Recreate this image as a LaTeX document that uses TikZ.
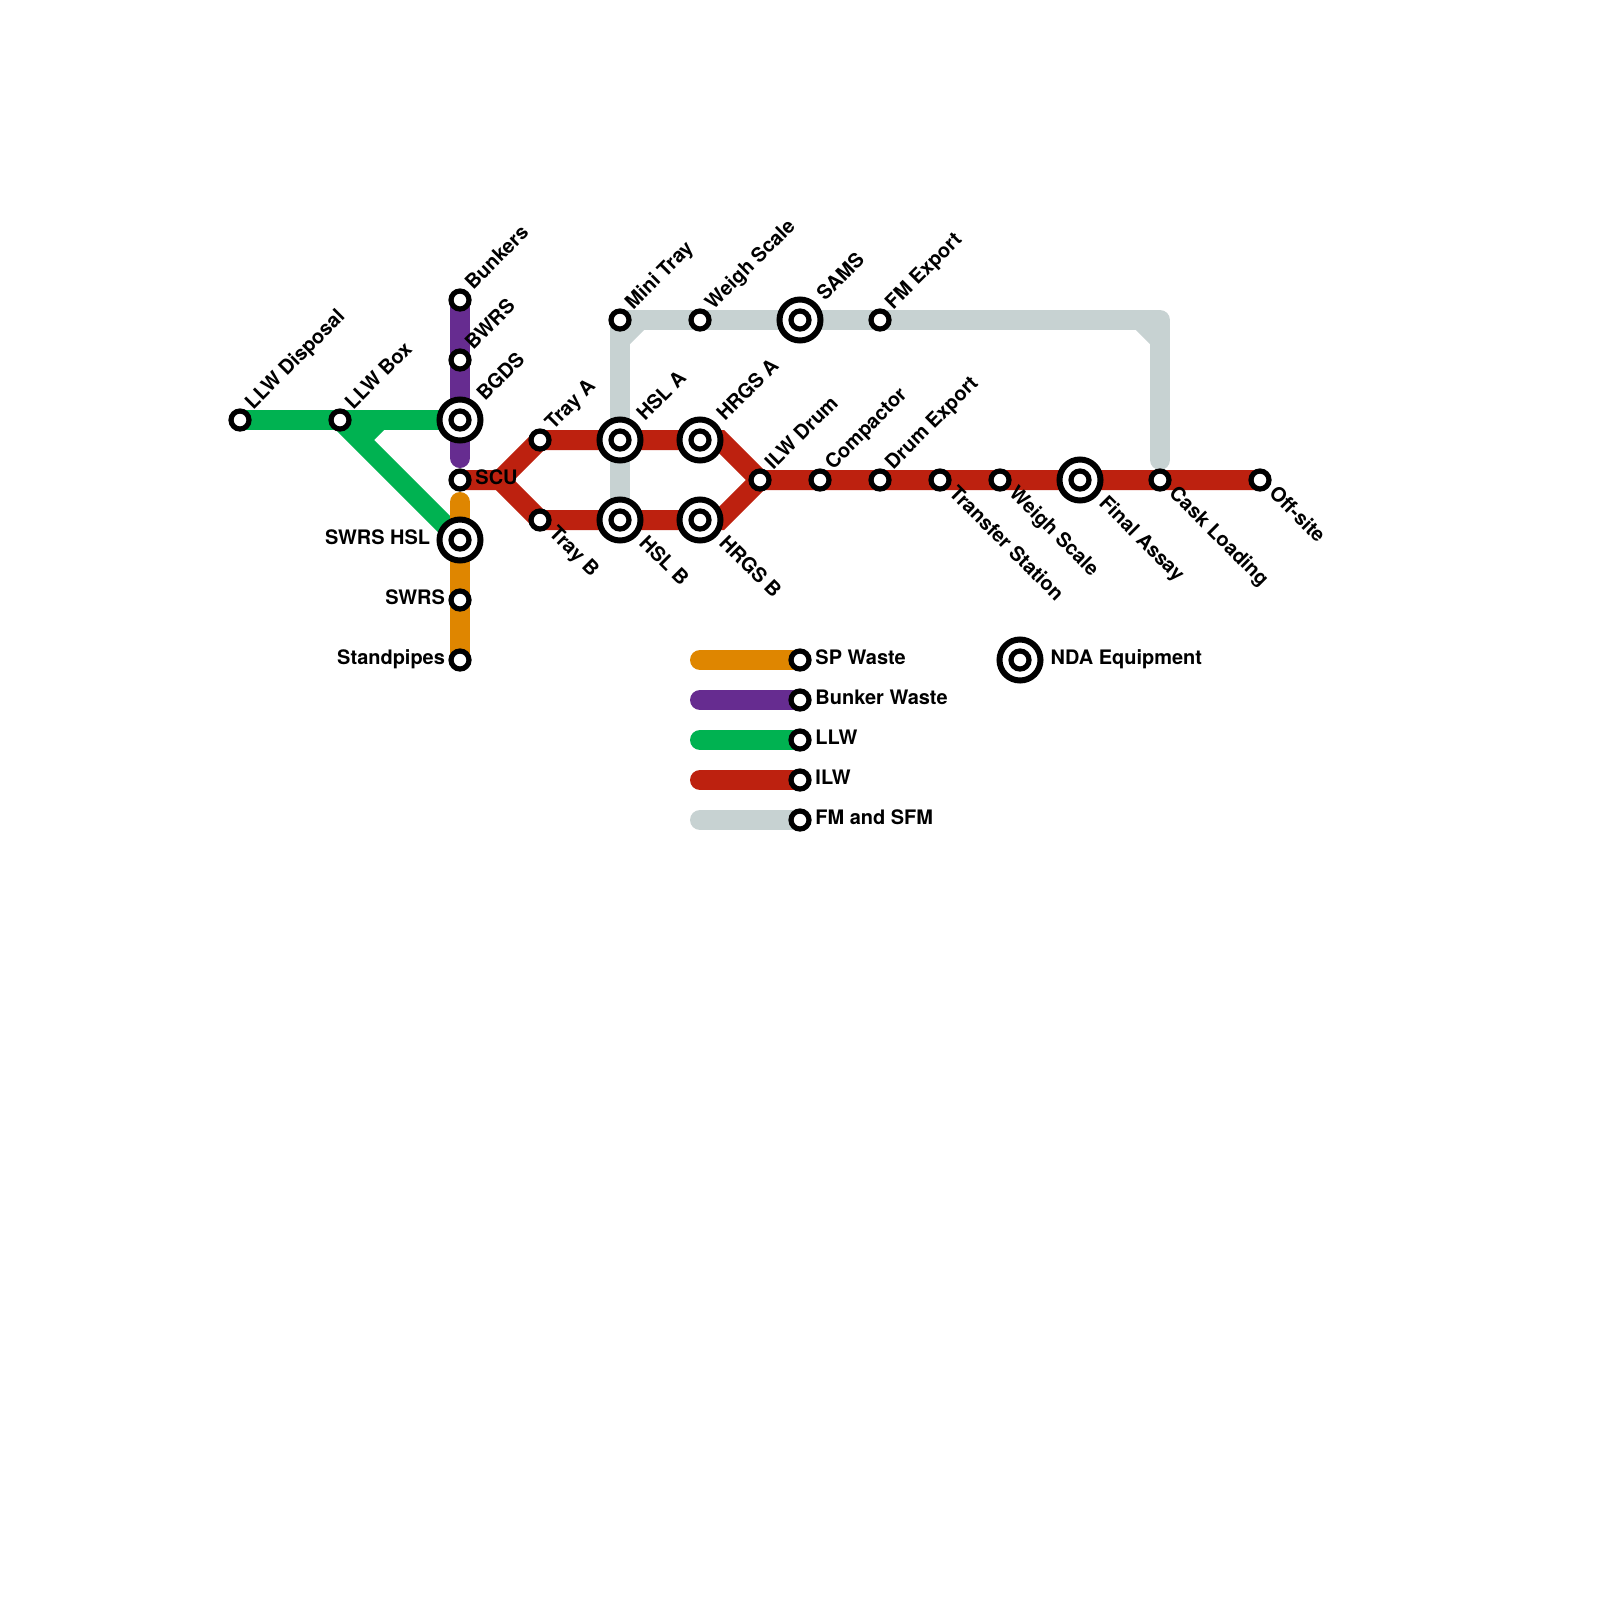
\documentclass[tikz,border=0pt]{standalone}
\usepackage{fontspec}
\setmainfont{TeX Gyre Heros}
\usetikzlibrary{backgrounds}
\definecolor{myorange}{RGB}{223,134,0}
\definecolor{mypurple}{RGB}{102,44,144}
\definecolor{mygreen}{RGB}{0,178,81}
\definecolor{myred}{RGB}{189,33,15}
\definecolor{mygrey}{RGB}{199,210,210}
\tikzset{
  stn/.style={draw,circle,fill=white,line width=0.13cm,minimum size=0.45cm,inner sep=0pt},
  hub/.style={draw,circle,fill=white,line width=0.15cm,minimum size=1.025cm,inner sep=0pt},
  wire/.style={draw=#1,line width=0.5cm,line cap=round},
  txt/.style={font=\fontsize{14.2}{16}\selectfont\bfseries,inner sep=0pt},
  lblup/.style={txt,xshift=0.33cm,yshift=0.24cm,rotate=45,anchor=base west},
  lbldn/.style={txt,xshift=0.2cm,yshift=-0.36cm,rotate=-45,anchor=base west},
  hublblup/.style={txt,xshift=0.62cm,yshift=0.45cm,rotate=45,anchor=base west},
  hublbldn/.style={txt,xshift=0.45cm,yshift=-0.6cm,rotate=-45,anchor=base west},
  lblleft/.style={txt,anchor=base east,xshift=-0.37cm,yshift=-0.1cm},
  lblright/.style={txt,anchor=base west,xshift=0.38cm,yshift=-0.1cm},
}
\begin{document}
\begin{tikzpicture}
  \useasboundingbox (0,0) rectangle (40,-40);

  \node[stn] (llwdisposal) at (6,-10.5) {};
  \node[stn] (llwbox) at (8.5,-10.5) {};
  \node[hub] (bgds) at (11.5,-10.5) {};
  \node[stn] (bgdsc) at (bgds) {};
  \node[stn] (bunkers) at (11.5,-7.5) {};
  \node[stn] (bwrs) at (11.5,-9) {};
  \node[stn] (scu) at (11.5,-12) {};
  \node[hub] (swrshsl) at (11.5,-13.5) {};
  \node[stn] (swrshslc) at (swrshsl) {};
  \node[stn] (swrs) at (11.5,-15) {};
  \node[stn] (standpipes) at (11.5,-16.5) {};

  \node[stn] (traya) at (13.5,-11) {};
  \node[stn] (trayb) at (13.5,-13) {};
  \node[hub] (hsla) at (15.5,-11) {};
  \node[stn] (hslac) at (hsla) {};
  \node[hub] (hslb) at (15.5,-13) {};
  \node[stn] (hslbc) at (hslb) {};
  \node[hub] (hrgsa) at (17.5,-11) {};
  \node[stn] (hrgsac) at (hrgsa) {};
  \node[hub] (hrgsb) at (17.5,-13) {};
  \node[stn] (hrgsbc) at (hrgsb) {};

  \node[stn] (ilwdrum) at (19,-12) {};
  \node[stn] (compactor) at (20.5,-12) {};
  \node[stn] (drumexport) at (22,-12) {};
  \node[stn] (transfer) at (23.5,-12) {};
  \node[stn] (weighlow) at (25,-12) {};
  \node[hub] (finalassay) at (27,-12) {};
  \node[stn] (finalassayc) at (finalassay) {};
  \node[stn] (cask) at (29,-12) {};
  \node[stn] (offsite) at (31.5,-12) {};

  \node[stn] (minitray) at (15.5,-8) {};
  \node[stn] (weightop) at (17.5,-8) {};
  \node[hub] (sams) at (20,-8) {};
  \node[stn] (samsc) at (sams) {};
  \node[stn] (fmexport) at (22,-8) {};

  \node[stn] (keysp) at (20,-16.5) {};
  \node[stn] (keybunker) at (20,-17.5) {};
  \node[stn] (keyllw) at (20,-18.5) {};
  \node[stn] (keyilw) at (20,-19.5) {};
  \node[stn] (keyfm) at (20,-20.5) {};
  \node[hub] (keynda) at (25.5,-16.5) {};
  \node[stn] (keyndac) at (keynda) {};

  \coordinate (greenA) at (9.5,-10.5);
  \coordinate (greenB) at (9,-11);
  \coordinate (purpleend) at (11.5,-11.45);
  \coordinate (orangeend) at (11.5,-12.55);
  \coordinate (redfork) at (12.5,-12);
  \coordinate (redA) at (18,-11);
  \coordinate (redB) at (18,-13);
  \coordinate (greyA) at (15.5,-8.5);
  \coordinate (greyB) at (16,-8);
  \coordinate (greyC) at (28.5,-8);
  \coordinate (greyD) at (29,-8);
  \coordinate (greyE) at (29,-8.5);
  \coordinate (greyend) at (29,-11.5);
  \coordinate (barsp) at (17.5,-16.5);
  \coordinate (barbunker) at (17.5,-17.5);
  \coordinate (barllw) at (17.5,-18.5);
  \coordinate (barilw) at (17.5,-19.5);
  \coordinate (barfm) at (17.5,-20.5);

  \begin{scope}[on background layer]
    \draw[wire=mygrey,line join=round] (minitray.center) -- (hslb.center);
    \draw[wire=mygrey,line join=round] (minitray.center) -- (greyD) -- (greyend);
    \draw[wire=mygrey,line cap=butt] (greyA) -- (greyB);
    \draw[wire=mygrey,line cap=butt] (greyC) -- (greyE);
    \draw[wire=mypurple] (bunkers.center) -- (purpleend);
    \draw[wire=mygreen] (llwdisposal.center) -- (bgds.center);
    \draw[wire=mygreen,line cap=butt] (llwbox.center) -- (swrshsl.center);
    \draw[wire=mygreen,line cap=butt] (greenA) -- (greenB);
    \draw[wire=myorange] (orangeend) -- (standpipes.center);
    \draw[wire=myred] (scu.center) -- (redfork) -- (traya.center) -- (redA) -- (ilwdrum.center) -- (offsite.center);
    \draw[wire=myred] (redfork) -- (trayb.center) -- (redB) -- (ilwdrum.center);
    \draw[wire=myorange] (barsp) -- (keysp.center);
    \draw[wire=mypurple] (barbunker) -- (keybunker.center);
    \draw[wire=mygreen] (barllw) -- (keyllw.center);
    \draw[wire=myred] (barilw) -- (keyilw.center);
    \draw[wire=mygrey] (barfm) -- (keyfm.center);
  \end{scope}

  \node[lblup] (llwdisposalL) at (llwdisposal) {LLW Disposal};
  \node[lblup] (llwboxL) at (llwbox) {LLW Box};
  \node[lblup] (bunkersL) at (bunkers) {Bunkers};
  \node[lblup] (bwrsL) at (bwrs) {BWRS};
  \node[hublblup] (bgdsL) at (bgds) {BGDS};
  \node[lblright] (scuL) at (scu) {SCU};
  \node[lblleft,xshift=-0.37cm] (swrshslL) at (swrshsl) {SWRS HSL};
  \node[lblleft] (swrsL) at (swrs) {SWRS};
  \node[lblleft] (standpipesL) at (standpipes) {Standpipes};
  \node[lblup] (trayaL) at (traya) {Tray A};
  \node[lbldn] (traybL) at (trayb) {Tray B};
  \node[hublblup] (hslaL) at (hsla) {HSL A};
  \node[hublbldn] (hslbL) at (hslb) {HSL B};
  \node[hublblup] (hrgsaL) at (hrgsa) {HRGS A};
  \node[hublbldn] (hrgsbL) at (hrgsb) {HRGS B};
  \node[lblup] (ilwdrumL) at (ilwdrum) {ILW Drum};
  \node[lblup] (compactorL) at (compactor) {Compactor};
  \node[lblup] (drumexportL) at (drumexport) {Drum Export};
  \node[lbldn] (transferL) at (transfer) {Transfer Station};
  \node[lbldn] (weighlowL) at (weighlow) {Weigh Scale};
  \node[hublbldn] (finalassayL) at (finalassay) {Final Assay};
  \node[lbldn] (caskL) at (cask) {Cask Loading};
  \node[lbldn] (offsiteL) at (offsite) {Off-site};
  \node[lblup] (minitrayL) at (minitray) {Mini Tray};
  \node[lblup] (weightopL) at (weightop) {Weigh Scale};
  \node[hublblup] (samsL) at (sams) {SAMS};
  \node[lblup] (fmexportL) at (fmexport) {FM Export};
  \node[lblright] (keyspL) at (keysp) {SP Waste};
  \node[lblright] (keybunkerL) at (keybunker) {Bunker Waste};
  \node[lblright] (keyllwL) at (keyllw) {LLW};
  \node[lblright] (keyilwL) at (keyilw) {ILW};
  \node[lblright] (keyfmL) at (keyfm) {FM and SFM};
  \node[lblright,xshift=0.38cm] (keyndaL) at (keynda) {NDA Equipment};
\end{tikzpicture}
\end{document}
